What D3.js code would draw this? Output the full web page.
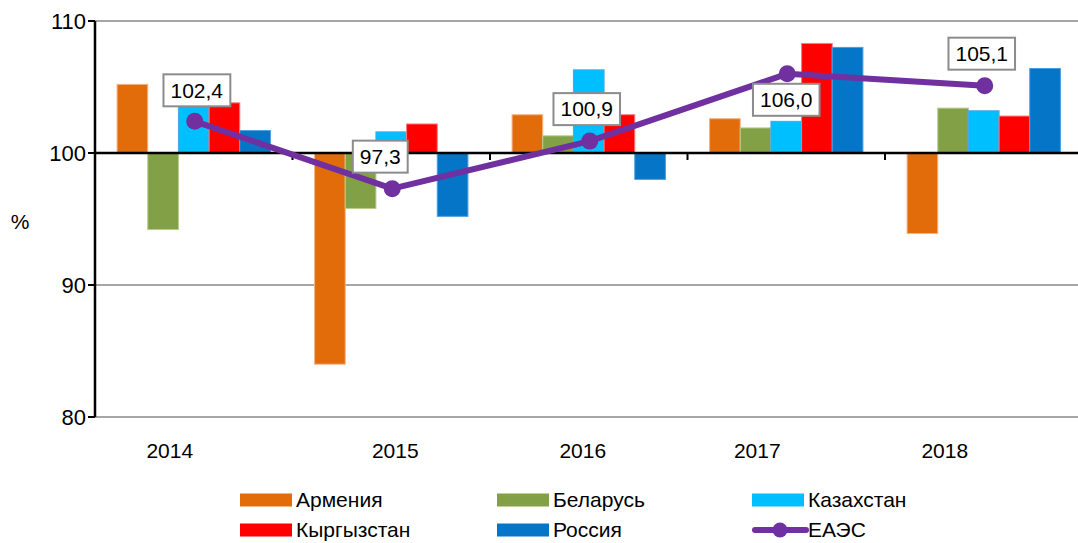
<!DOCTYPE html>
<html>
<head>
<meta charset="utf-8">
<script src="https://cdn.jsdelivr.net/npm/d3@7"></script>
<style>
  body { margin: 0; background: #fff; }
  text { font-family: "Liberation Sans", Arial, sans-serif; fill: #000; }
</style>
</head>
<body>
<svg id="viz"></svg>
<script>
// Chart values (index = 100)
const years = ["2014", "2015", "2016", "2017", "2018"];
const countries = ["Армения", "Беларусь", "Казахстан", "Кыргызстан", "Россия"];
const armenia    = [105.2, 84.0, 102.9, 102.6, 93.9];
const belarus    = [94.2, 95.8, 101.3, 101.9, 103.4];
const kazakhstan = [104.0, 101.6, 106.3, 102.4, 103.2];
const kyrgyzstan = [103.8, 102.2, 102.9, 108.3, 102.8];
const russia     = [101.7, 95.2, 98.0, 108.0, 106.4];
const eaeu       = [102.4, 97.3, 100.9, 106.0, 105.1];
const lineName = "ЕАЭС";
const yTicks = [80, 90, 100, 110];

const series = [armenia, belarus, kazakhstan, kyrgyzstan, russia];
const colors = ["#E36C0A", "#82A046", "#00BFFF", "#FF0000", "#0575C8"];
const edges  = ["#f3b48a", "#b6cc8c", "#4aa6ea", "#ff7a7a", "#4a9ee0"];

// layout only: nudges for the year labels and the value boxes
const yearShift = [-24, 4, -6, -29, -39];
const boxShift = [[2, -31], [-12, -32], [-3, -32], [-1, 26], [-3, -32]];

const width = 1078, height = 543;
const svg = d3.select("#viz").attr("width", width).attr("height", height);

const plotLeft = 95, plotRight = 1082.5, plotTop = 21, plotBottom = 417;

const y = d3.scaleLinear().domain([80, 110]).range([plotBottom, plotTop]);
const x0 = d3.scaleBand().domain(years).range([plotLeft, plotRight]).padding(0);
const x1 = d3.scaleBand().domain(countries).range([0, x0.bandwidth()])
    .paddingInner(0).paddingOuter(0.72);

// gridlines (the 100 line is the category axis, drawn later)
svg.append("g").selectAll("line")
  .data(yTicks.filter(d => d !== 100))
  .enter().append("line")
    .attr("x1", plotLeft).attr("x2", width)
    .attr("y1", d => y(d)).attr("y2", d => y(d))
    .attr("stroke", "#a6a6a6").attr("stroke-width", 2);

// bars grow from 100
const groups = svg.append("g").selectAll("g")
  .data(years)
  .enter().append("g")
    .attr("transform", d => "translate(" + x0(d) + ",0)");

groups.selectAll("rect")
  .data((yr, i) => countries.map((c, k) => ({c: c, k: k, v: series[k][i]})))
  .enter().append("rect")
    .attr("x", d => x1(d.c))
    .attr("width", x1.bandwidth())
    .attr("y", d => y(Math.max(d.v, 100)))
    .attr("height", d => Math.abs(y(d.v) - y(100)))
    .attr("fill", d => colors[d.k])
    .attr("stroke", d => edges[d.k])
    .attr("stroke-width", 1);

// category axis sitting on 100
svg.append("line")
  .attr("x1", plotLeft).attr("x2", width)
  .attr("y1", y(100)).attr("y2", y(100))
  .attr("stroke", "#000").attr("stroke-width", 2.5);

svg.append("g").selectAll("line")
  .data(years)
  .enter().append("line")
    .attr("x1", d => x0(d)).attr("x2", d => x0(d))
    .attr("y1", y(100)).attr("y2", y(100) + 7)
    .attr("stroke", "#000").attr("stroke-width", 2);

// value axis
svg.append("line")
  .attr("x1", plotLeft).attr("x2", plotLeft)
  .attr("y1", plotTop).attr("y2", plotBottom)
  .attr("stroke", "#000").attr("stroke-width", 2.5);

const yt = svg.append("g").selectAll("g")
  .data(yTicks)
  .enter().append("g")
    .attr("transform", d => "translate(" + plotLeft + "," + y(d) + ")");
yt.append("line").attr("x1", -7).attr("x2", 0).attr("stroke", "#000").attr("stroke-width", 2);
yt.append("text")
  .attr("x", -9).attr("dy", "0.35em")
  .attr("text-anchor", "end")
  .style("font-size", "22px")
  .text(d => d);

svg.append("text")
  .attr("x", 20).attr("y", 222).attr("dy", "0.35em")
  .attr("text-anchor", "middle")
  .style("font-size", "21px")
  .text("%");

// year labels
svg.append("g").selectAll("text")
  .data(years)
  .enter().append("text")
    .attr("x", (d, i) => x0(d) + x0.bandwidth() / 2 + yearShift[i])
    .attr("y", 451).attr("dy", "0.35em")
    .attr("text-anchor", "middle")
    .style("font-size", "21px")
    .text(d => d);

// EAEU line
const cx = d => x0(d) + x0.bandwidth() / 2 + 1;
const line = d3.line().x((d, i) => cx(years[i])).y(d => y(d));

svg.append("path")
  .datum(eaeu)
  .attr("d", line)
  .attr("fill", "none")
  .attr("stroke", "#7030A0")
  .attr("stroke-width", 6)
  .attr("stroke-linejoin", "round");

svg.append("g").selectAll("circle")
  .data(eaeu)
  .enter().append("circle")
    .attr("cx", (d, i) => cx(years[i]))
    .attr("cy", d => y(d))
    .attr("r", 8.5)
    .attr("fill", "#7030A0");

// value boxes
const fmt = v => d3.format(".1f")(v).replace(".", ",");
const boxes = svg.append("g").selectAll("g")
  .data(eaeu)
  .enter().append("g")
    .attr("transform", (d, i) => "translate(" + (cx(years[i]) + boxShift[i][0]) + "," + (y(d) + boxShift[i][1]) + ")");

boxes.append("text")
  .attr("text-anchor", "middle").attr("dy", "0.35em")
  .style("font-size", "21px")
  .text(d => fmt(d));

boxes.insert("rect", "text")
  .each(function() {
    const t = d3.select(this.parentNode).select("text").node().getBBox();
    d3.select(this)
      .attr("x", t.x - 7).attr("y", -16)
      .attr("width", t.width + 14).attr("height", 32);
  })
  .attr("fill", "#fff")
  .attr("stroke", "#8c8c8c")
  .attr("stroke-width", 2);

// legend
const legendItems = countries.map((c, k) => ({name: c, color: colors[k], bar: true}))
  .concat([{name: lineName, color: "#7030A0", bar: false}]);
const legendCols = [240, 497, 752];
const legendRows = [500, 530];

const leg = svg.append("g").selectAll("g")
  .data(legendItems)
  .enter().append("g")
    .attr("transform", (d, i) => "translate(" + legendCols[i % 3] + "," + legendRows[Math.floor(i / 3)] + ")");

leg.filter(d => d.bar).append("rect")
  .attr("x", 0).attr("y", -6.5).attr("width", 52).attr("height", 13)
  .attr("fill", d => d.color);

leg.filter(d => !d.bar).append("line")
  .attr("x1", 3).attr("x2", 54).attr("y1", 0).attr("y2", 0)
  .attr("stroke", d => d.color).attr("stroke-width", 6).attr("stroke-linecap", "round");
leg.filter(d => !d.bar).append("circle")
  .attr("cx", 28).attr("cy", 0).attr("r", 7.5)
  .attr("fill", d => d.color);

leg.append("text")
  .attr("x", 56).attr("dy", "0.35em")
  .style("font-size", "21px")
  .text(d => d.name);
</script>
</body>
</html>
